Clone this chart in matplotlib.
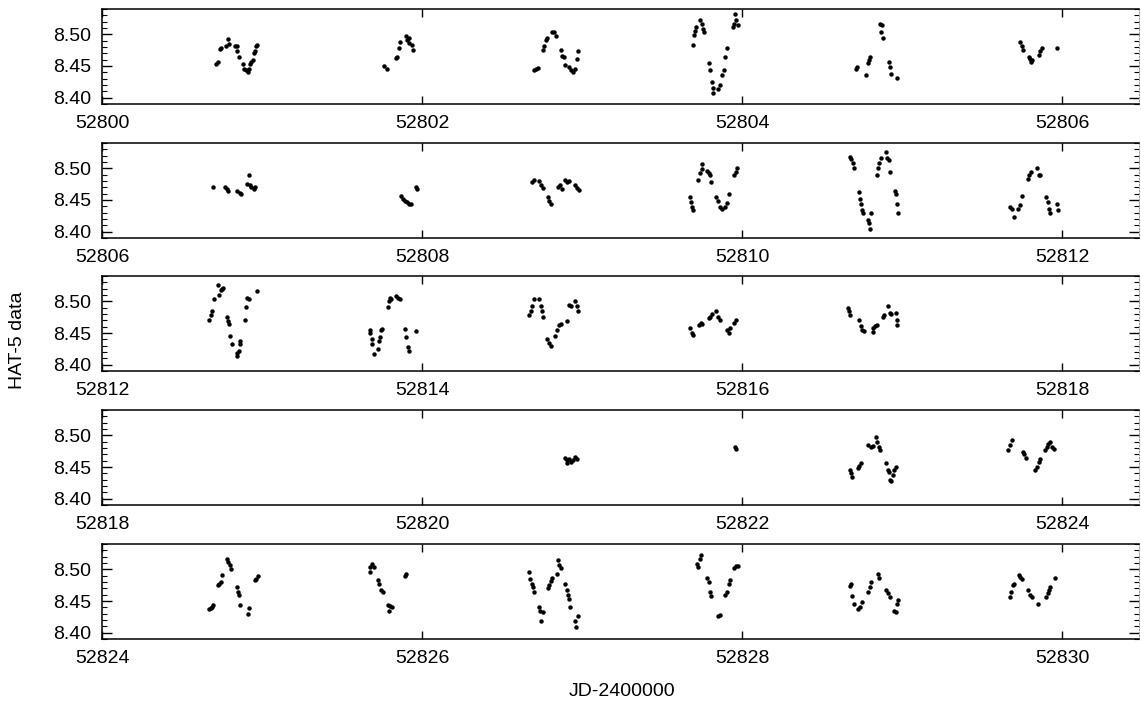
"""
HAT-5 light curve, split into five 6.5-day strips.
"""

import matplotlib
matplotlib.use("Agg")
import matplotlib.pyplot as plt
from matplotlib.ticker import MultipleLocator, FormatStrFormatter
import numpy as np

plt.rcParams['font.family'] = ['Liberation Sans', 'DejaVu Sans']
plt.rcParams['font.size'] = 14

JD0 = 52800  # offsets below are days after JD-2400000 = 52800

# strip starts
starts = [52800, 52806, 52812, 52818, 52824]

# panel 1
t1 = [0.714, 0.722, 0.738, 0.746, 0.774, 0.786, 0.793, 0.829, 0.841, 0.846, 0.853, 0.882,
      0.889, 0.901, 0.913, 0.918, 0.925, 0.932, 0.941, 0.949, 0.956, 0.961, 0.968,
      1.761, 1.778, 1.838, 1.845, 1.857, 1.864, 1.897, 1.904, 1.916, 1.921, 1.935, 1.945,
      2.700, 2.710, 2.724, 2.753, 2.760, 2.772, 2.781, 2.812, 2.824, 2.836, 2.867, 2.877,
      2.884, 2.896, 2.920, 2.932, 2.944, 2.956, 2.968, 2.973,
      3.691, 3.701, 3.708, 3.713, 3.739, 3.748, 3.755, 3.762, 3.795, 3.802, 3.809, 3.816,
      3.821, 3.849, 3.861, 3.873, 3.885, 3.896, 3.908, 3.943, 3.951, 3.958, 3.962, 3.972,
      4.709, 4.716, 4.775, 4.787, 4.794, 4.799, 4.862, 4.874, 4.869, 4.879, 4.917, 4.924,
      4.933, 4.969,
      5.734, 5.746, 5.757, 5.793, 5.800, 5.805, 5.812, 5.852, 5.864, 5.871, 5.970]
m1 = [8.453, 8.457, 8.477, 8.479, 8.482, 8.493, 8.485, 8.481, 8.481, 8.473, 8.464, 8.453,
      8.446, 8.444, 8.440, 8.446, 8.453, 8.457, 8.459, 8.470, 8.474, 8.481, 8.483,
      8.450, 8.446, 8.462, 8.465, 8.479, 8.488, 8.497, 8.491, 8.494, 8.486, 8.483, 8.476,
      8.444, 8.446, 8.447, 8.476, 8.481, 8.491, 8.494, 8.503, 8.504, 8.497, 8.475, 8.466,
      8.464, 8.452, 8.449, 8.444, 8.441, 8.446, 8.461, 8.473,
      8.483, 8.499, 8.506, 8.511, 8.523, 8.516, 8.508, 8.503, 8.454, 8.444, 8.425, 8.415,
      8.408, 8.413, 8.420, 8.436, 8.444, 8.465, 8.479, 8.512, 8.517, 8.532, 8.523, 8.515,
      8.446, 8.449, 8.436, 8.454, 8.459, 8.464, 8.516, 8.515, 8.504, 8.494, 8.457, 8.449,
      8.438, 8.431,
      8.488, 8.481, 8.476, 8.464, 8.461, 8.457, 8.459, 8.467, 8.474, 8.479, 8.478]

# panel 2
t2 = [6.693, 6.769, 6.781, 6.789, 6.846, 6.860, 6.870, 6.908, 6.918, 6.925, 6.932, 6.949, 6.956,
      7.869, 7.881, 7.892, 7.904, 7.916, 7.928, 7.959, 7.969,
      8.688, 8.700, 8.729, 8.741, 8.753, 8.784, 8.793, 8.805, 8.848, 8.860, 8.872, 8.896,
      8.908, 8.920, 8.956, 8.968, 8.980,
      9.673, 9.680, 9.684, 9.691, 9.727, 9.739, 9.748, 9.750, 9.783, 9.790, 9.802, 9.807,
      9.837, 9.849, 9.861, 9.873, 9.896, 9.903, 9.915, 9.951, 9.960, 9.967,
      10.674, 10.681, 10.693, 10.697, 10.733, 10.735, 10.744, 10.751, 10.756, 10.787, 10.792,
      10.796, 10.808, 10.843, 10.850, 10.857, 10.867, 10.898, 10.905, 10.916, 10.921, 10.956,
      10.961, 10.968, 10.975,
      11.675, 11.687, 11.698, 11.722, 11.734, 11.746, 11.786, 11.793, 11.805, 11.840, 11.852,
      11.863, 11.899, 11.910, 11.918, 11.922, 11.969, 11.974]
m2 = [8.471, 8.471, 8.468, 8.465, 8.465, 8.461, 8.459, 8.476, 8.489, 8.473, 8.470, 8.468, 8.471,
      8.457, 8.452, 8.449, 8.447, 8.444, 8.443, 8.470, 8.468,
      8.478, 8.481, 8.480, 8.473, 8.469, 8.455, 8.449, 8.444, 8.470, 8.473, 8.468, 8.481,
      8.478, 8.480, 8.473, 8.469, 8.466,
      8.455, 8.447, 8.439, 8.435, 8.481, 8.492, 8.499, 8.507, 8.496, 8.492, 8.489, 8.478,
      8.455, 8.449, 8.439, 8.436, 8.439, 8.445, 8.460, 8.489, 8.494, 8.500,
      8.518, 8.515, 8.509, 8.501, 8.462, 8.452, 8.443, 8.434, 8.430, 8.419, 8.413,
      8.404, 8.430, 8.490, 8.501, 8.508, 8.517, 8.525, 8.516, 8.513, 8.494, 8.465,
      8.459, 8.444, 8.429,
      8.439, 8.436, 8.423, 8.436, 8.442, 8.457, 8.483, 8.489, 8.494, 8.501, 8.489,
      8.489, 8.455, 8.447, 8.436, 8.429, 8.444, 8.434]

# panel 3
t3 = [12.669, 12.679, 12.686, 12.698, 12.726, 12.734, 12.741, 12.750, 12.757, 12.781, 12.789,
      12.793, 12.800, 12.810, 12.841, 12.846, 12.853, 12.860, 12.865, 12.896, 12.901, 12.908,
      12.918, 12.968,
      13.673, 13.677, 13.685, 13.689, 13.697, 13.725, 13.730, 13.737, 13.744, 13.749, 13.785,
      13.792, 13.797, 13.809, 13.840, 13.849, 13.864, 13.892, 13.900, 13.912, 13.916, 13.964,
      14.669, 14.681, 14.688, 14.700, 14.729, 14.741, 14.748, 14.757, 14.781, 14.793, 14.805,
      14.829, 14.843, 14.853, 14.867, 14.908, 14.920, 14.932, 14.956, 14.968, 14.975,
      15.673, 15.684, 15.691, 15.731, 15.743, 15.750, 15.790, 15.802, 15.814, 15.837, 15.849,
      15.861, 15.908, 15.915, 15.925, 15.948, 15.960,
      16.662, 16.669, 16.674, 16.733, 16.744, 16.751, 16.759, 16.815, 16.820, 16.829, 16.843,
      16.879, 16.886, 16.909, 16.921, 16.933, 16.961, 16.968, 16.970]
m3 = [8.471, 8.479, 8.485, 8.504, 8.526, 8.510, 8.518, 8.520, 8.521, 8.475, 8.469,
      8.464, 8.445, 8.432, 8.414, 8.419, 8.422, 8.437, 8.433, 8.470, 8.491, 8.505,
      8.504, 8.517,
      8.455, 8.450, 8.440, 8.432, 8.417, 8.424, 8.437, 8.443, 8.455, 8.457, 8.491,
      8.500, 8.505, 8.503, 8.508, 8.505, 8.503, 8.457, 8.443, 8.428, 8.421, 8.453,
      8.479, 8.484, 8.492, 8.503, 8.503, 8.492, 8.484, 8.476, 8.440, 8.435, 8.429,
      8.445, 8.455, 8.463, 8.464, 8.469, 8.495, 8.492, 8.500, 8.492, 8.484,
      8.458, 8.450, 8.447, 8.463, 8.466, 8.464, 8.474, 8.476, 8.480, 8.485, 8.476,
      8.471, 8.455, 8.450, 8.458, 8.466, 8.470,
      8.489, 8.484, 8.478, 8.470, 8.461, 8.455, 8.453, 8.458, 8.451, 8.461, 8.462,
      8.476, 8.479, 8.492, 8.482, 8.480, 8.482, 8.471, 8.463]

# panel 4
t4 = [20.896, 20.903, 20.908, 20.920, 20.932, 20.944, 20.956, 20.968,
      21.955, 21.962,
      22.674, 22.681, 22.688, 22.721, 22.733, 22.744, 22.787, 22.803, 22.815, 22.839, 22.843,
      22.857, 22.862, 22.898, 22.909, 22.916, 22.921, 22.933, 22.940, 22.952, 22.961,
      23.663, 23.675, 23.687, 23.753, 23.762, 23.777, 23.833, 23.840, 23.852, 23.863, 23.894,
      23.903, 23.910, 23.922, 23.934, 23.946]
m4 = [8.465, 8.461, 8.456, 8.462, 8.458, 8.461, 8.466, 8.463,
      8.481, 8.478,
      8.445, 8.440, 8.435, 8.448, 8.451, 8.456, 8.484, 8.482, 8.483, 8.497, 8.490,
      8.482, 8.477, 8.457, 8.445, 8.442, 8.429, 8.428, 8.437, 8.445, 8.450,
      8.477, 8.484, 8.492, 8.474, 8.470, 8.465, 8.445, 8.450, 8.458, 8.463, 8.477,
      8.482, 8.487, 8.490, 8.482, 8.479]

# panel 5
t5 = [24.669, 24.679, 24.686, 24.693, 24.722, 24.731, 24.741, 24.750, 24.781, 24.789, 24.798,
      24.805, 24.841, 24.848, 24.855, 24.865, 24.913, 24.918, 24.956, 24.965, 24.975,
      25.673, 25.677, 25.689, 25.697, 25.725, 25.732, 25.744, 25.754, 25.785, 25.792, 25.802,
      25.811, 25.892, 25.900,
      26.669, 26.676, 26.688, 26.693, 26.700, 26.729, 26.734, 26.741, 26.753, 26.784, 26.793,
      26.805, 26.812, 26.841, 26.848, 26.855, 26.867, 26.896, 26.903, 26.913, 26.920, 26.927,
      26.956, 26.963, 26.975,
      27.720, 27.727, 27.739, 27.743, 27.783, 27.790, 27.802, 27.807, 27.849, 27.861, 27.896,
      27.903, 27.915, 27.925, 27.948, 27.960, 27.972,
      28.674, 28.681, 28.686, 28.697, 28.726, 28.737, 28.749, 28.787, 28.796, 28.806, 28.846,
      28.853, 28.898, 28.909, 28.921, 28.952, 28.961, 28.968, 28.975,
      29.675, 29.682, 29.692, 29.699, 29.729, 29.739, 29.746, 29.786, 29.800, 29.810, 29.847,
      29.899, 29.910, 29.918, 29.922, 29.958]
m5 = [8.437, 8.439, 8.441, 8.444, 8.475, 8.477, 8.480, 8.491, 8.516, 8.512, 8.507,
      8.501, 8.472, 8.464, 8.459, 8.444, 8.430, 8.439, 8.483, 8.485, 8.490,
      8.496, 8.504, 8.509, 8.504, 8.483, 8.477, 8.467, 8.464, 8.443, 8.434, 8.442,
      8.441, 8.490, 8.492,
      8.496, 8.484, 8.477, 8.472, 8.465, 8.441, 8.435, 8.419, 8.432, 8.471, 8.475,
      8.481, 8.486, 8.493, 8.514, 8.507, 8.502, 8.477, 8.468, 8.459, 8.453, 8.441,
      8.418, 8.409, 8.426,
      8.509, 8.504, 8.517, 8.523, 8.486, 8.480, 8.465, 8.458, 8.427, 8.428, 8.459,
      8.464, 8.477, 8.483, 8.502, 8.506, 8.505,
      8.474, 8.477, 8.458, 8.446, 8.437, 8.441, 8.448, 8.464, 8.472, 8.480, 8.493,
      8.486, 8.467, 8.462, 8.456, 8.435, 8.432, 8.446, 8.451,
      8.456, 8.464, 8.475, 8.477, 8.491, 8.488, 8.485, 8.467, 8.460, 8.456, 8.446,
      8.456, 8.463, 8.467, 8.472, 8.486]

times = [t1, t2, t3, t4, t5]
mags = [m1, m2, m3, m4, m5]

W, H = 1141, 702
fig = plt.figure(figsize=(W / 100, H / 100), dpi=100)

left = 102 / W
width = (1139 - 102) / W
height = 95 / H
tops = [9, 143, 276, 410, 544]

for i, (x0, t, m) in enumerate(zip(starts, times, mags)):
    ax = fig.add_axes([left, 1 - (tops[i] + 95) / H, width, height])
    ax.plot(JD0 + np.array(t), m, 'o', color='black', ms=3.2, mec='none')
    ax.set_xlim(x0, x0 + 6.48)
    ax.set_ylim(8.39, 8.54)
    ax.xaxis.set_major_locator(MultipleLocator(2))
    ax.xaxis.set_major_formatter(FormatStrFormatter('%d'))
    ax.yaxis.set_major_locator(MultipleLocator(0.05))
    ax.yaxis.set_minor_locator(MultipleLocator(0.01))
    ax.yaxis.set_major_formatter(FormatStrFormatter('%.2f'))
    ax.tick_params(axis='x', which='major', direction='in', top=True, length=6,
                   width=1, pad=8)
    ax.tick_params(axis='y', which='major', direction='in', right=True, length=7,
                   width=1, pad=8)
    ax.tick_params(axis='y', which='minor', direction='in', right=True, length=3.5,
                   width=0.8)
    for s in ['left', 'top', 'bottom']:
        ax.spines[s].set_linewidth(1.1)
    ax.spines['right'].set_linestyle(':')
    ax.spines['right'].set_color('#999999')
    ax.spines['right'].set_linewidth(0.8)

fig.text(18 / W, 1 - 340 / H, 'HAT-5 data', rotation=90, ha='center', va='center')
fig.text(622 / W, 1 - 691 / H, 'JD-2400000', ha='center', va='center')

fig.savefig('out.png', dpi=100)
